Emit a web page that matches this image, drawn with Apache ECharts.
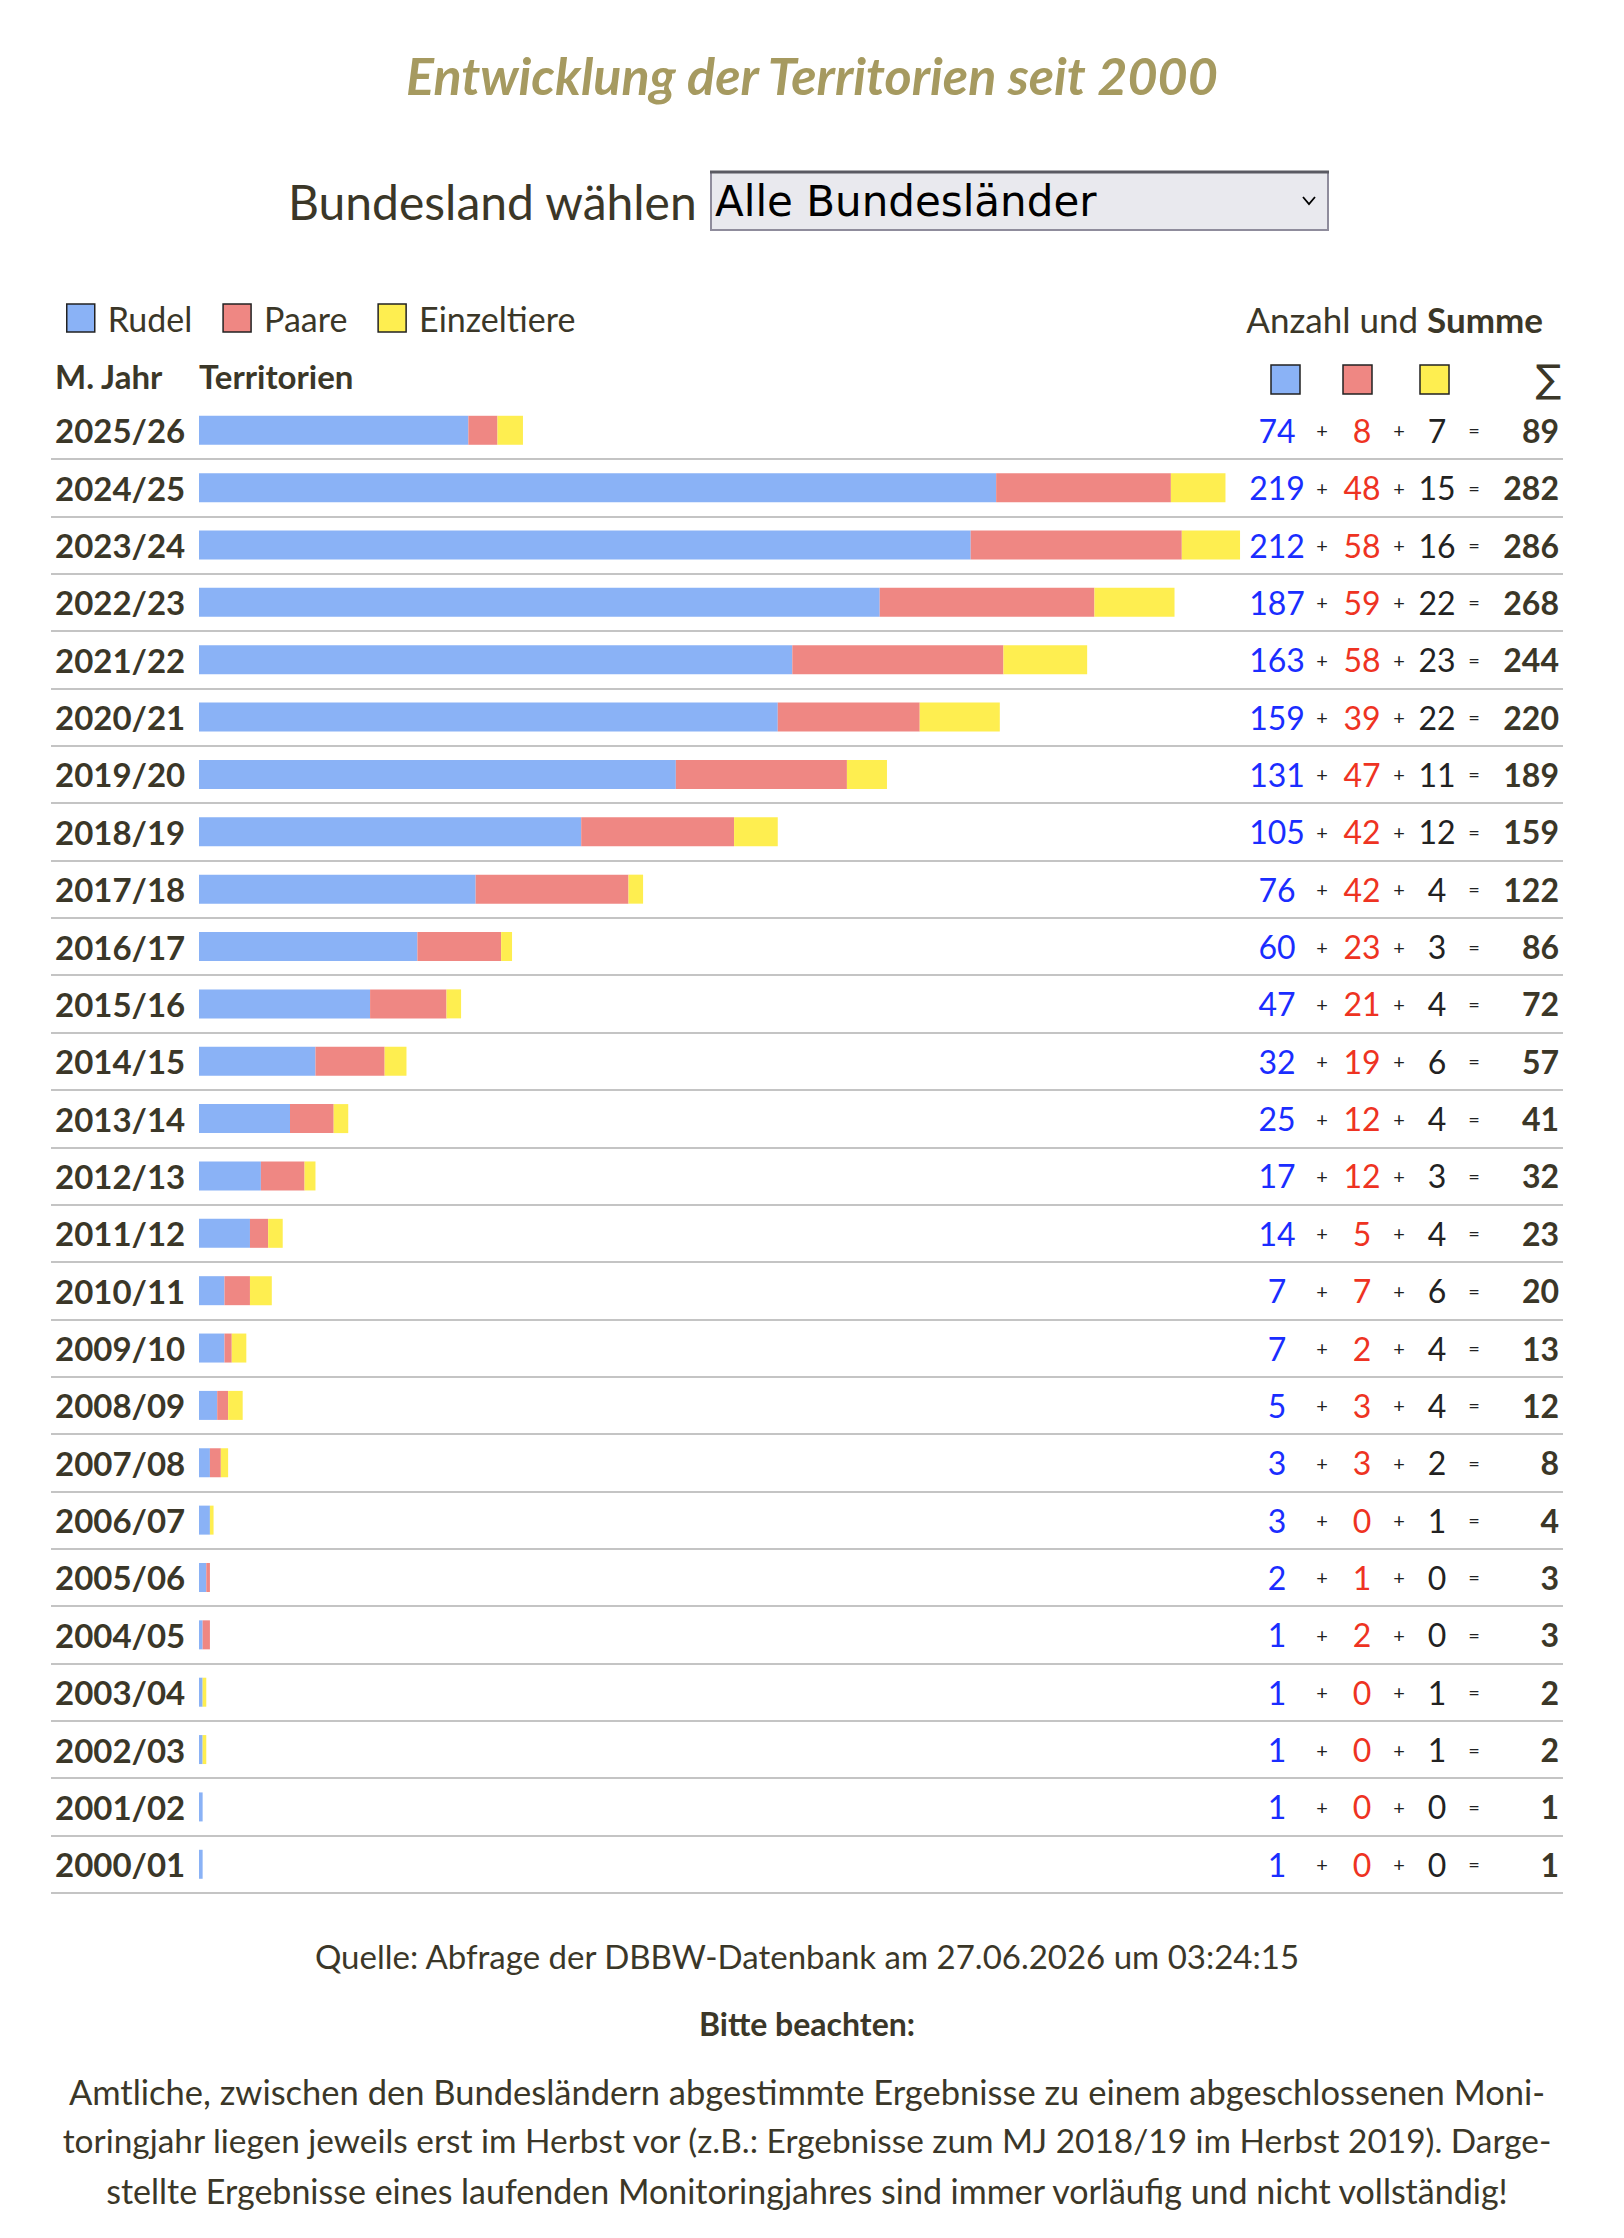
<!DOCTYPE html>
<html>
<head>
<meta charset="utf-8">
<title>Entwicklung der Territorien seit 2000</title>
<script src="https://cdn.jsdelivr.net/npm/echarts@6/dist/echarts.min.js"></script>
<style>
  html, body { margin: 0; padding: 0; background: #fff; }
  #chart { width: 1624px; height: 2238px; }
</style>
</head>
<body>
<div id="chart"></div>
<script>
  // Monitoringjahre, neuestes oben
  var years = ['2025/26', '2024/25', '2023/24', '2022/23', '2021/22', '2020/21', '2019/20', '2018/19',
    '2017/18', '2016/17', '2015/16', '2014/15', '2013/14', '2012/13', '2011/12', '2010/11', '2009/10',
    '2008/09', '2007/08', '2006/07', '2005/06', '2004/05', '2003/04', '2002/03', '2001/02', '2000/01']
  var rudel = [74, 219, 212, 187, 163, 159, 131, 105, 76, 60, 47, 32, 25, 17, 14, 7, 7, 5, 3, 3, 2, 1, 1, 1, 1, 1]
  var paare = [8, 48, 58, 59, 58, 39, 47, 42, 42, 23, 21, 19, 12, 12, 5, 7, 2, 3, 3, 0, 1, 2, 0, 0, 0, 0]
  var einzeltiere = [7, 15, 16, 22, 23, 22, 11, 12, 4, 3, 4, 6, 4, 3, 4, 6, 4, 4, 2, 1, 0, 0, 1, 1, 0, 0]
  var seriesNames = ['Rudel', 'Paare', 'Einzeltiere']
  var colors = ['#8ab2f6', '#ef8783', '#feee50']

  var summe = rudel.map(function (v, i) { return v + paare[i] + einzeltiere[i] })

  var FONT = 'Lato, "Open Sans", sans-serif'
  var TEXT = '#3b3728'

  // Zeilen gehen von 51 bis 1563, Balken beginnen bei 199
  var rowLeft = 51
  var rowRight = 1563
  var barStart = 199
  var pxPerUnit = 3.64
  var xMin = -(barStart - rowLeft) / pxPerUnit
  var xMax = xMin + (rowRight - rowLeft) / pxPerUnit

  var chart = echarts.init(document.getElementById('chart'), null, { renderer: 'svg' })

  function txt (text, x, y, size, opts) {
    opts = opts || {}
    return {
      type: 'text',
      silent: true,
      style: {
        text: text,
        x: x,
        y: y,
        fill: opts.color || TEXT,
        font: (opts.style || 'normal') + ' ' + (opts.weight || 'normal') + ' ' + size + 'px ' + (opts.family || FONT),
        textAlign: opts.align || 'left',
        textVerticalAlign: 'middle',
        rich: opts.rich
      }
    }
  }

  function square (x, y, color) {
    return {
      type: 'rect',
      silent: true,
      shape: { x: x, y: y, width: 29, height: 29 },
      style: { fill: color, stroke: '#222', lineWidth: 1.5 }
    }
  }

  var graphics = [
    txt('Bundesland wählen', 288, 201, 48),
    {
      type: 'rect',
      silent: true,
      shape: { x: 711, y: 172, width: 617, height: 58 },
      style: { fill: '#e9e9ee', stroke: '#8f8c9c', lineWidth: 2 }
    },
    {
      type: 'line',
      silent: true,
      shape: { x1: 710, y1: 172, x2: 1329, y2: 172 },
      style: { stroke: '#5a5a62', lineWidth: 3 }
    },
    txt('Alle Bundesländer', 715, 201, 42, { color: '#000', family: '"DejaVu Sans", sans-serif' }),
    {
      type: 'polyline',
      silent: true,
      shape: { points: [[1303, 197], [1309, 204], [1315, 197]] },
      style: { stroke: '#000', lineWidth: 1.8, fill: null }
    },
    txt('Anzahl und {b|Summe}', 1543, 319, 35, {
      align: 'right',
      rich: { b: { fontWeight: 'bold', fontSize: 35, fontFamily: FONT, fill: TEXT } }
    }),
    txt('M. Jahr', 55, 376, 33, { weight: 'bold' }),
    txt('Territorien', 199, 376, 33, { weight: 'bold' }),
    square(1271, 365, colors[0]),
    square(1343, 365, colors[1]),
    square(1420, 365, colors[2]),
    txt('\u2211', 1561, 379, 38, { align: 'right', family: '"DejaVu Sans", sans-serif' }),
    txt('Quelle: Abfrage der DBBW-Datenbank am 27.06.2026 um 03:24:15', 807, 1956, 33, { align: 'center' }),
    txt('Bitte beachten:', 807, 2023, 32, { align: 'center', weight: 'bold' }),
    txt('Amtliche, zwischen den Bundesländern abgestimmte Ergebnisse zu einem abgeschlossenen Moni-', 807, 2091, 34.5, { align: 'center' }),
    txt('toringjahr liegen jeweils erst im Herbst vor (z.B.: Ergebnisse zum MJ 2018/19 im Herbst 2019). Darge-', 807, 2140, 33.4, { align: 'center' }),
    txt('stellte Ergebnisse eines laufenden Monitoringjahres sind immer vorläufig und nicht vollständig!', 807, 2190, 34, { align: 'center' })
  ]

  var numStyle = { fontFamily: FONT, fontSize: 32, verticalAlign: 'middle', lineHeight: 40 }
  var opStyle = { fontFamily: FONT, fontSize: 20, color: '#222', verticalAlign: 'middle', lineHeight: 40, align: 'center' }

  var option = {
    animation: false,
    backgroundColor: '#fff',
    title: {
      text: 'Entwicklung der Territorien seit 2000',
      left: 'center',
      top: 44,
      textStyle: {
        fontFamily: FONT,
        fontSize: 52,
        fontStyle: 'italic',
        fontWeight: 'bold',
        color: '#a69a60'
      }
    },
    legend: {
      data: seriesNames,
      left: 66,
      top: 301,
      padding: 0,
      icon: 'rect',
      itemWidth: 28,
      itemHeight: 28,
      itemGap: 30,
      selectedMode: false,
      itemStyle: { borderColor: '#222', borderWidth: 1.5 },
      textStyle: { fontFamily: FONT, fontSize: 34, color: TEXT, padding: [0, 0, 0, 8] }
    },
    grid: {
      left: rowLeft,
      right: 1624 - rowRight,
      top: 401.6,
      height: 57.36 * years.length,
      containLabel: false
    },
    xAxis: {
      type: 'value',
      min: xMin,
      max: xMax,
      show: false
    },
    yAxis: [{
      type: 'category',
      data: years,
      inverse: true,
      axisLine: { show: false },
      axisTick: { show: false },
      splitLine: {
        show: true,
        interval: function (index) { return index > 0 },
        lineStyle: { color: '#c4c4c4', width: 2 }
      },
      axisLabel: {
        interval: 0,
        align: 'left',
        margin: -4,
        fontFamily: FONT,
        fontWeight: 'bold',
        fontSize: 33,
        color: TEXT
      }
    }, {
      type: 'category',
      data: years,
      inverse: true,
      position: 'right',
      axisLine: { show: false },
      axisTick: { show: false },
      splitLine: { show: false },
      axisLabel: {
        interval: 0,
        align: 'right',
        margin: -4,
        formatter: function (value, index) {
          return '{b|' + rudel[index] + '}{p|+}{r|' + paare[index] + '}{p2|+}{y|' +
            einzeltiere[index] + '}{e|=}{s|' + summe[index] + '}'
        },
        rich: {
          b: Object.assign({}, numStyle, { width: 72, align: 'center', color: '#1a2dff' }),
          p: Object.assign({}, opStyle, { width: 18 }),
          r: Object.assign({}, numStyle, { width: 62, align: 'center', color: '#ee3322' }),
          p2: Object.assign({}, opStyle, { width: 12 }),
          y: Object.assign({}, numStyle, { width: 64, align: 'center', color: '#222' }),
          e: Object.assign({}, opStyle, { width: 10 }),
          s: Object.assign({}, numStyle, { width: 80, align: 'right', color: TEXT, fontWeight: 'bold' })
        }
      }
    }],
    graphic: graphics,
    series: [
      { name: seriesNames[0], data: rudel },
      { name: seriesNames[1], data: paare },
      { name: seriesNames[2], data: einzeltiere }
    ].map(function (s, i) {
      return {
        name: s.name,
        type: 'bar',
        stack: 'total',
        barWidth: 29,
        silent: true,
        itemStyle: { color: colors[i] },
        data: s.data
      }
    })
  }

  chart.setOption(option)
</script>
</body>
</html>
